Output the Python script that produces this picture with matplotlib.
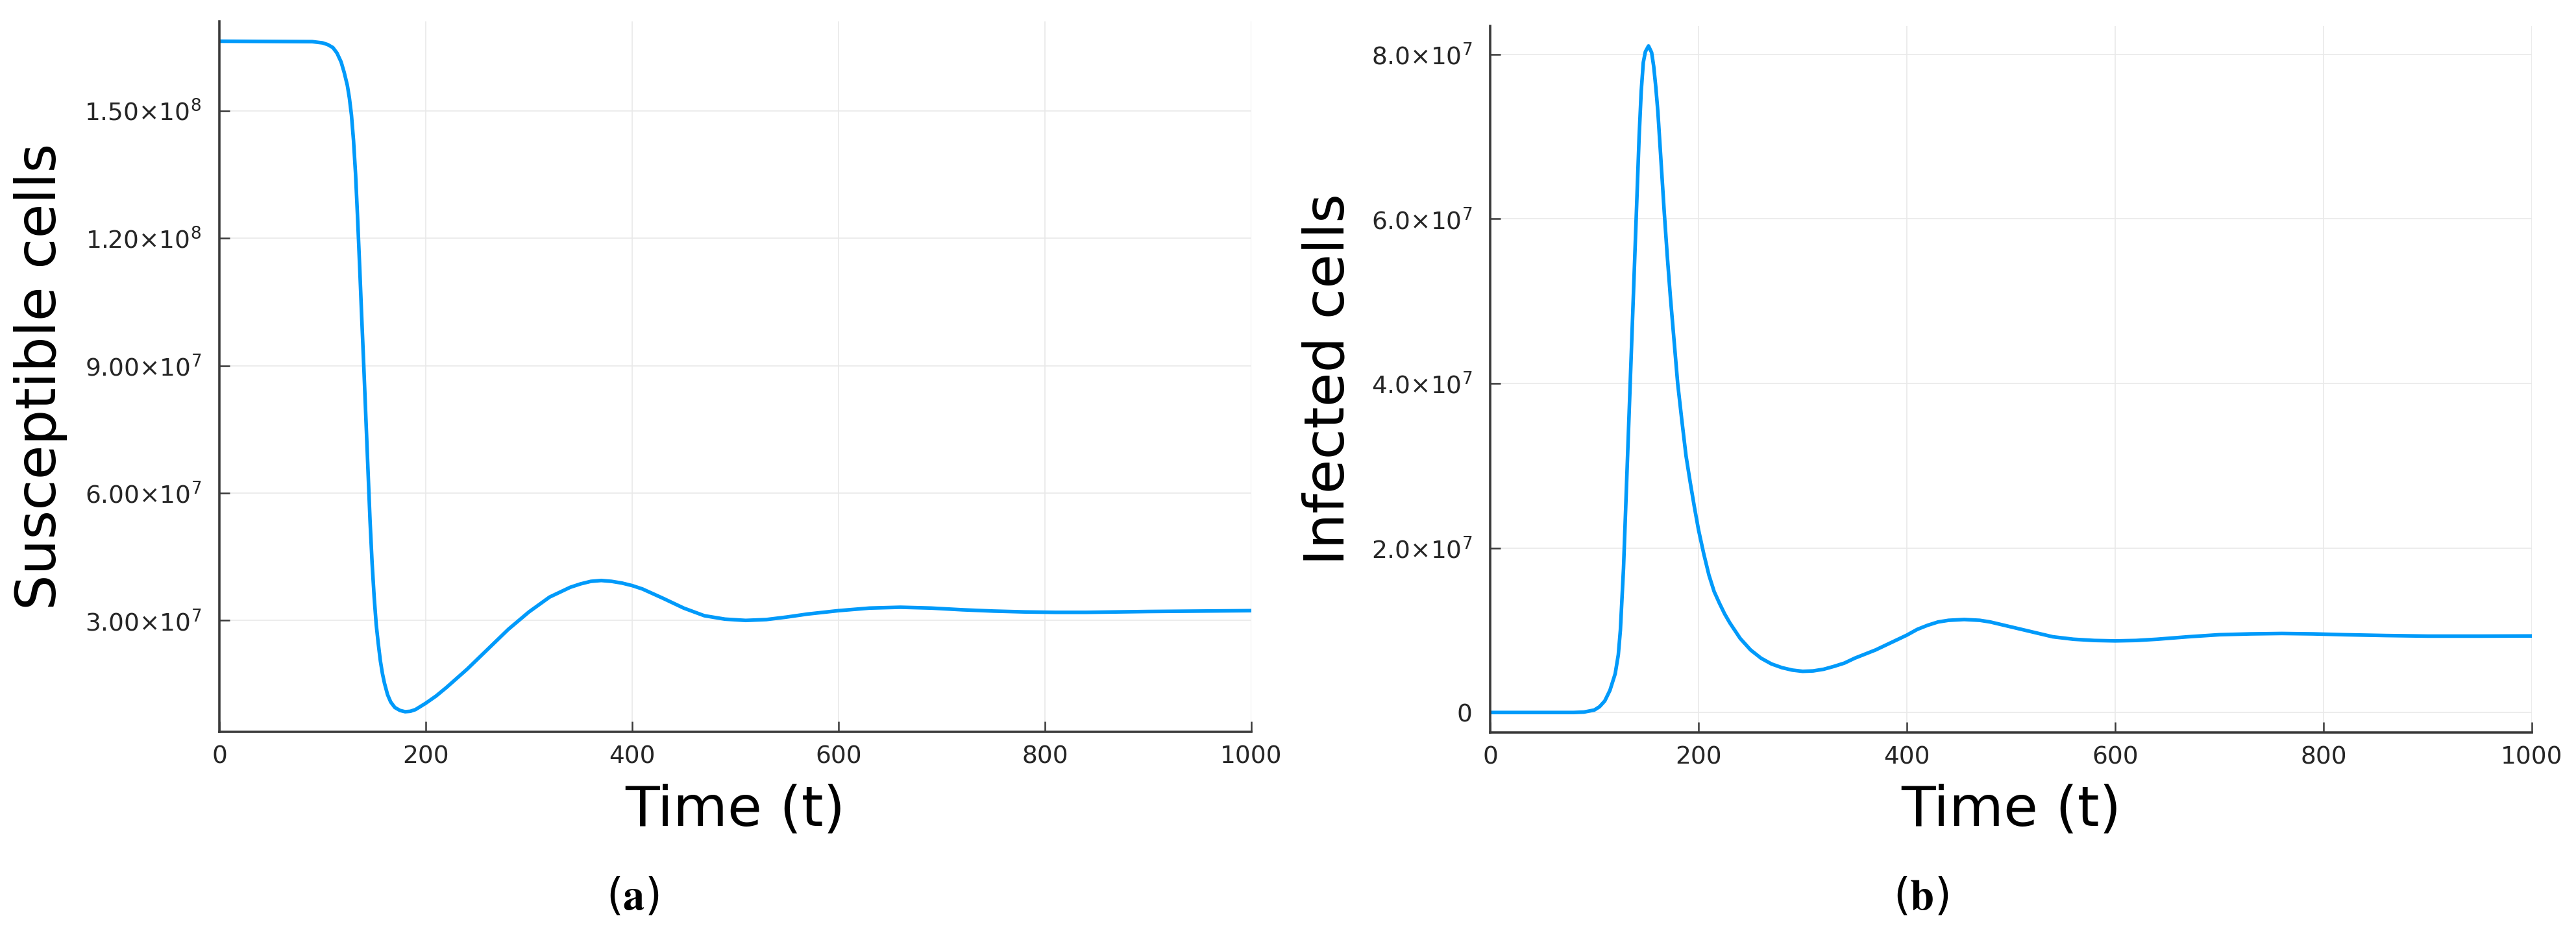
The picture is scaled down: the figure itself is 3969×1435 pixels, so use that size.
import numpy as np
import matplotlib
matplotlib.use("Agg")
import matplotlib.pyplot as plt

plt.rcParams.update({'font.family': 'DejaVu Sans', 'mathtext.default': 'regular'})

# DATA (in units of 1e7 cells)
scale = 1e7

t_sus = [0, 90, 100, 105, 110, 114, 118, 121, 124, 126, 128, 130, 132, 134,
         136, 138, 140, 142, 144, 146, 148, 150, 152, 154, 156, 158, 160, 163,
         166, 170, 175, 180, 185, 190, 200, 210, 220, 240, 260, 280, 300, 320,
         340, 350, 360, 370, 380, 390, 400, 410, 430, 450, 470, 490, 510, 530,
         550, 570, 600, 630, 660, 690, 720, 750, 780, 810, 840, 870, 900, 950,
         1000]
sus = [16.64, 16.63, 16.6, 16.56, 16.49, 16.36, 16.15, 15.9, 15.6, 15.3, 14.9,
       14.3, 13.5, 12.45, 11.3, 10.1, 8.95, 7.75, 6.55, 5.35, 4.35, 3.55, 2.9,
       2.45, 2.05, 1.75, 1.52, 1.25, 1.08, 0.95, 0.88, 0.85, 0.86, 0.9, 1.05,
       1.22, 1.42, 1.85, 2.32, 2.79, 3.2, 3.55, 3.78, 3.86, 3.92, 3.94, 3.92,
       3.88, 3.82, 3.74, 3.52, 3.29, 3.11, 3.03, 3.0, 3.02, 3.08, 3.15, 3.23,
       3.29, 3.31, 3.29, 3.25, 3.22, 3.2, 3.19, 3.19, 3.2, 3.21, 3.22, 3.23]

t_inf = [0, 80, 90, 100, 105, 110, 115, 120, 123, 125, 128, 131, 134, 137, 140,
         143, 145, 147, 149, 152, 155, 157, 159, 161, 164, 167, 170, 173, 176,
         180, 184, 188, 192, 196, 200, 205, 210, 215, 220, 225, 230, 240, 250,
         260, 270, 280, 290, 300, 310, 320, 330, 340, 350, 360, 370, 380, 390,
         400, 410, 420, 430, 440, 455, 470, 480, 500, 520, 540, 560, 580, 600,
         620, 640, 670, 700, 730, 760, 790, 820, 860, 900, 950, 1000]
inf = [0.0, 0.0, 0.005, 0.03, 0.07, 0.14, 0.27, 0.47, 0.7, 1.0, 1.75, 2.8, 3.85,
       4.9, 5.95, 7.0, 7.55, 7.9, 8.03, 8.1, 8.02, 7.85, 7.6, 7.3, 6.7, 6.1,
       5.55, 5.05, 4.6, 4.0, 3.55, 3.12, 2.8, 2.5, 2.22, 1.93, 1.67, 1.47, 1.33,
       1.2, 1.09, 0.9, 0.76, 0.66, 0.59, 0.545, 0.515, 0.5, 0.505, 0.525, 0.56,
       0.6, 0.66, 0.71, 0.76, 0.82, 0.88, 0.94, 1.01, 1.06, 1.1, 1.12, 1.13,
       1.12, 1.1, 1.04, 0.98, 0.92, 0.89, 0.875, 0.87, 0.875, 0.89, 0.92,
       0.945, 0.955, 0.96, 0.955, 0.945, 0.935, 0.928, 0.928, 0.93]

x_ticks = [0, 200, 400, 600, 800, 1000]
sus_ticks = [3e7, 6e7, 9e7, 1.2e8, 1.5e8]
sus_labels = [r'$3.00{\times}10^{7}$', r'$6.00{\times}10^{7}$', r'$9.00{\times}10^{7}$',
              r'$1.20{\times}10^{8}$', r'$1.50{\times}10^{8}$']
inf_ticks = [0, 2e7, 4e7, 6e7, 8e7]
inf_labels = ['0', r'$2.0{\times}10^{7}$', r'$4.0{\times}10^{7}$',
              r'$6.0{\times}10^{7}$', r'$8.0{\times}10^{7}$']

LINE = '#009AFA'
FRAME = '#3a3a3a'
W, H = 3969, 1435

fig = plt.figure(figsize=(W / 100, H / 100), dpi=100)
ax1 = fig.add_axes([338 / W, 1 - 1128 / H, 1590 / W, 1095.5 / H])
ax2 = fig.add_axes([2296 / W, 1 - 1129 / H, 1605 / W, 1089 / H])


def style_axes(ax, t, y, yt, yl, ylabel, ylx):
    y = np.array(y) * scale
    ax.plot(t, y, color=LINE, lw=4.0, solid_joinstyle='round', solid_capstyle='round')
    r = y.max() - y.min()
    ax.set_ylim(y.min() - 0.03 * r, y.max() + 0.03 * r)
    ax.set_xlim(0, 1000)
    ax.set_xticks(x_ticks)
    ax.set_xticklabels([str(v) for v in x_ticks])
    ax.set_yticks(yt)
    ax.set_yticklabels(yl)
    ax.grid(True, color='#e9e9e9', lw=1.2)
    ax.set_axisbelow(True)
    for s in ['top', 'right']:
        ax.spines[s].set_visible(False)
    for s in ['left', 'bottom']:
        ax.spines[s].set_color(FRAME)
        ax.spines[s].set_linewidth(2.6)
    ax.tick_params(axis='both', direction='in', length=11.5, width=1.8,
                   color=FRAME, labelsize=27, labelcolor='#262626')
    ax.tick_params(axis='y', pad=20)
    ax.tick_params(axis='x', pad=15)
    ax.set_xlabel('Time (t)', fontsize=62, va='center')
    ax.xaxis.set_label_coords(0.5, -0.110)
    ax.set_ylabel(ylabel, fontsize=62, va='center')
    ax.yaxis.set_label_coords(ylx, 0.5)


style_axes(ax1, t_sus, sus, sus_ticks, sus_labels, 'Susceptible cells', -0.173)
style_axes(ax2, t_inf, inf, inf_ticks, inf_labels, 'Infected cells', -0.155)

# SUBFIGURE LABELS
fig.text(975 / W, 1 - 1383 / H, r'$(\mathbf{a})$', fontsize=48,
         math_fontfamily='stix', ha='center', va='center')
fig.text(2960 / W, 1 - 1383 / H, r'$(\mathbf{b})$', fontsize=48,
         math_fontfamily='stix', ha='center', va='center')

fig.savefig('out.png', dpi=100, facecolor='white')
